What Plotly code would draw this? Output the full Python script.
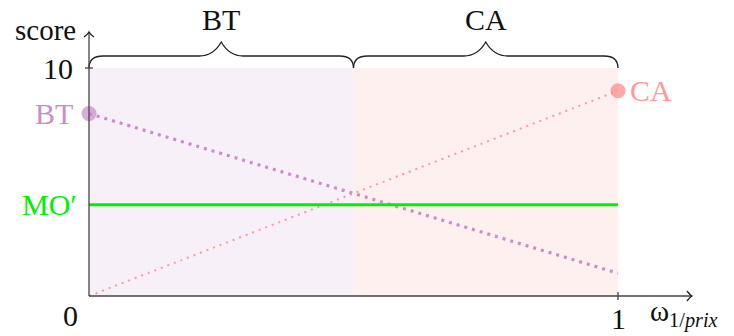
import plotly.graph_objects as go

# data
w = [0, 1]
bt = [8, 1]
ca = [0, 9]
mo = [4, 4]
zones = [0, 0.5, 1]
zone_names = ["BT", "CA"]
y_max = 10

W, H = 734, 336
# pixel mapping (origin at px 89, 296)
px_x = 529.0
px_y = 22.8
x_rng = [-89 / px_x, (W - 89) / px_x]
y_rng = [-(H - 296) / px_y, 296 / px_y]

def dx(p):
    return p / px_x

def dy(p):
    return p / px_y

FONT = "Liberation Serif"
PURPLE = "#c98ec9"
PINK = "#ff9a9a"
GREEN = "#00f000"

fig = go.Figure()

# dotted lines + end markers
fig.add_trace(go.Scatter(x=w, y=ca, mode="lines",
                         line=dict(color=PINK, width=2, dash="2px,5px")))
fig.add_trace(go.Scatter(x=w, y=bt, mode="lines",
                         line=dict(color=PURPLE, width=3.2, dash="3px,5px")))
fig.add_trace(go.Scatter(x=w, y=mo, mode="lines",
                         line=dict(color=GREEN, width=3)))
fig.add_trace(go.Scatter(x=[w[0]], y=[bt[0]], mode="markers",
                         marker=dict(size=15, color="rgba(195,130,195,0.65)")))
fig.add_trace(go.Scatter(x=[w[1]], y=[ca[1]], mode="markers",
                         marker=dict(size=15, color="rgba(255,140,140,0.75)")))

shapes = []
# shaded zones
fills = ["#f7f0f8", "#fff0f0"]
for i in range(len(zone_names)):
    shapes.append(dict(type="rect", x0=zones[i], x1=zones[i + 1], y0=0, y1=y_max,
                       fillcolor=fills[i], line=dict(width=0), layer="below"))

# braces
def brace(x0, x1):
    m = (x0 + x1) / 2
    yb = y_max + dy(12)
    yt = y_max + dy(26)
    r = dx(14)
    hw = dx(22)
    return (f"M {x0},{y_max} Q {x0},{yb} {x0 + r},{yb} L {m - hw},{yb} "
            f"Q {m - dx(8)},{yb} {m},{yt} Q {m + dx(8)},{yb} {m + hw},{yb} "
            f"L {x1 - r},{yb} Q {x1},{yb} {x1},{y_max}")

for i in range(len(zone_names)):
    shapes.append(dict(type="path", path=brace(zones[i], zones[i + 1]),
                       line=dict(color="#222", width=1.3)))

# axes
ax_col = "#444"
x_end = dx(692 - 89)
y_end = dy(296 - 32)
shapes.append(dict(type="line", x0=0, y0=0, x1=x_end, y1=0, line=dict(color=ax_col, width=1.3)))
shapes.append(dict(type="line", x0=0, y0=0, x1=0, y1=y_end, line=dict(color=ax_col, width=1.3)))
shapes.append(dict(type="path",
                   path=f"M {x_end - dx(5)},{dy(5)} Q {x_end - dx(2)},{dy(1)} {x_end},0 "
                        f"Q {x_end - dx(2)},{-dy(1)} {x_end - dx(5)},{-dy(5)}",
                   line=dict(color="#222", width=1.3)))
shapes.append(dict(type="path",
                   path=f"M {-dx(5)},{y_end - dy(5)} Q {-dx(1)},{y_end - dy(2)} 0,{y_end} "
                        f"Q {dx(1)},{y_end - dy(2)} {dx(5)},{y_end - dy(5)}",
                   line=dict(color="#222", width=1.3)))
# ticks
shapes.append(dict(type="line", x0=-dx(4), x1=dx(4), y0=y_max, y1=y_max, line=dict(color=ax_col, width=1.3)))
shapes.append(dict(type="line", x0=1, x1=1, y0=-dy(4), y1=dy(4), line=dict(color=ax_col, width=1.3)))

def txt(x, y, s, color="#111", xanchor="center", size=30):
    return dict(x=x, y=y, text=s, showarrow=False, xanchor=xanchor, yanchor="middle",
                font=dict(family=FONT, size=size, color=color))

ann = [
    txt(-dx(11), y_end + dy(2), "score", xanchor="right", size=29),
    txt(-dx(14), y_max, "10", xanchor="right"),
    txt(-dx(19), -dy(19), "0"),
    txt(1, -dy(22), "1"),
    txt(dx(648 - 89), -dy(17), "ω<sub>1/<i>prix</i></sub>", xanchor="left", size=29),
    txt(-dx(14), bt[0], "BT", color=PURPLE, xanchor="right"),
    txt(dx(628 - 89), ca[1], "CA", color=PINK, xanchor="left"),
    txt(-dx(10), mo[0], "MO′", color=GREEN, xanchor="right"),
]
for i, name in enumerate(zone_names):
    ann.append(txt((zones[i] + zones[i + 1]) / 2, dy(296 - 19), name))

fig.update_layout(
    width=W, height=H,
    margin=dict(l=0, r=0, t=0, b=0),
    plot_bgcolor="white", paper_bgcolor="white",
    showlegend=False,
    shapes=shapes,
    annotations=ann,
    xaxis=dict(range=x_rng, visible=False, fixedrange=True),
    yaxis=dict(range=y_rng, visible=False, fixedrange=True),
)

# page body has a default margin; drop it so the figure sits at the window corner
fig.write_html("out.html", config={"displayModeBar": False},
               post_script="document.body.style.margin='0';")
